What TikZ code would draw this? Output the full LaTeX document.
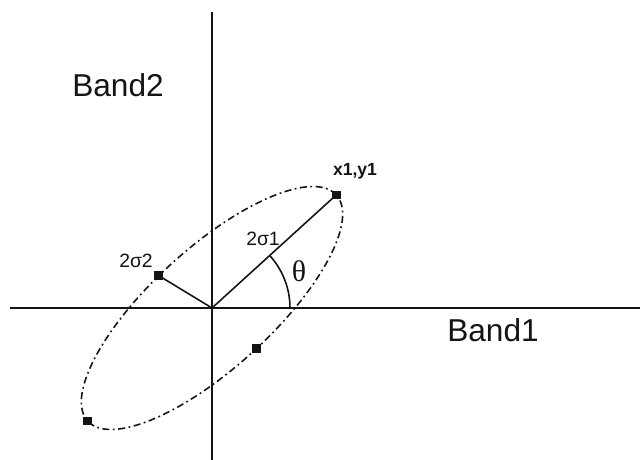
\documentclass[tikz,border=0pt]{standalone}
\usepackage{fontspec}
\setmainfont{Liberation Sans}
\newfontfamily\symfont{Liberation Serif}
\usetikzlibrary{calc}
\definecolor{DG}{RGB}{20,20,20}
\tikzset{
  axisline/.style={DG, line width=1.1pt},
  ray/.style={DG, line width=0.9pt},
  ellipseline/.style={DG, line width=0.9pt, dash pattern=on 4pt off 2pt on 1pt off 2pt},
  pt/.style={fill=DG, inner sep=0pt, minimum size=5pt, rectangle}
}
\begin{document}
\begin{tikzpicture}
\useasboundingbox (-4.24,-3.04) rectangle (8.62,6.16);

\coordinate (O) at (0,0);
\coordinate (xl) at (-4.04,0);
\coordinate (xr) at (8.56,0);
\coordinate (yb) at (0,-3.04);
\coordinate (yt) at (0,5.92);
\draw[axisline] (xl) -- (xr);
\draw[axisline] (yb) -- (yt);

\begin{scope}[rotate=42.3]
\draw[ellipseline] (O) ellipse [x radius=3.36, y radius=1.2];
\node[pt] (p1) at (3.36,0) {};
\node[pt] (p3) at (-3.36,0) {};
\node[pt] (p2) at ({3.36*cos(96)},{1.2*sin(96)}) {};
\node[pt] (p4) at ({3.36*cos(-88)},{1.2*sin(-88)}) {};
\end{scope}

\draw[ray] (O) -- (p1.center);
\draw[ray] (O) -- (p2.center);
\draw[ray] (1.56,0) arc[start angle=0, end angle=42.3, radius=1.56];

\node[font=\fontsize{18}{21}\selectfont,text=DG] (b2) at (-1.88,4.46) {Band2};
\node[font=\fontsize{18}{21}\selectfont,text=DG] (b1) at (5.62,-0.44) {Band1};
\node[font=\fontsize{10}{12}\selectfont\bfseries,text=DG] (lxy) at (2.86,2.74) {x1,y1};
\node[font=\fontsize{11}{13}\selectfont,text=DG] (ls2) at (-1.52,0.94) {2σ2};
\node[font=\fontsize{11}{13}\selectfont,text=DG] (ls1) at (1.02,1.38) {2σ1};
\node[font=\fontsize{17}{20}\selectfont\symfont,text=DG] (lth) at (1.74,0.74) {θ};
\end{tikzpicture}
\end{document}
